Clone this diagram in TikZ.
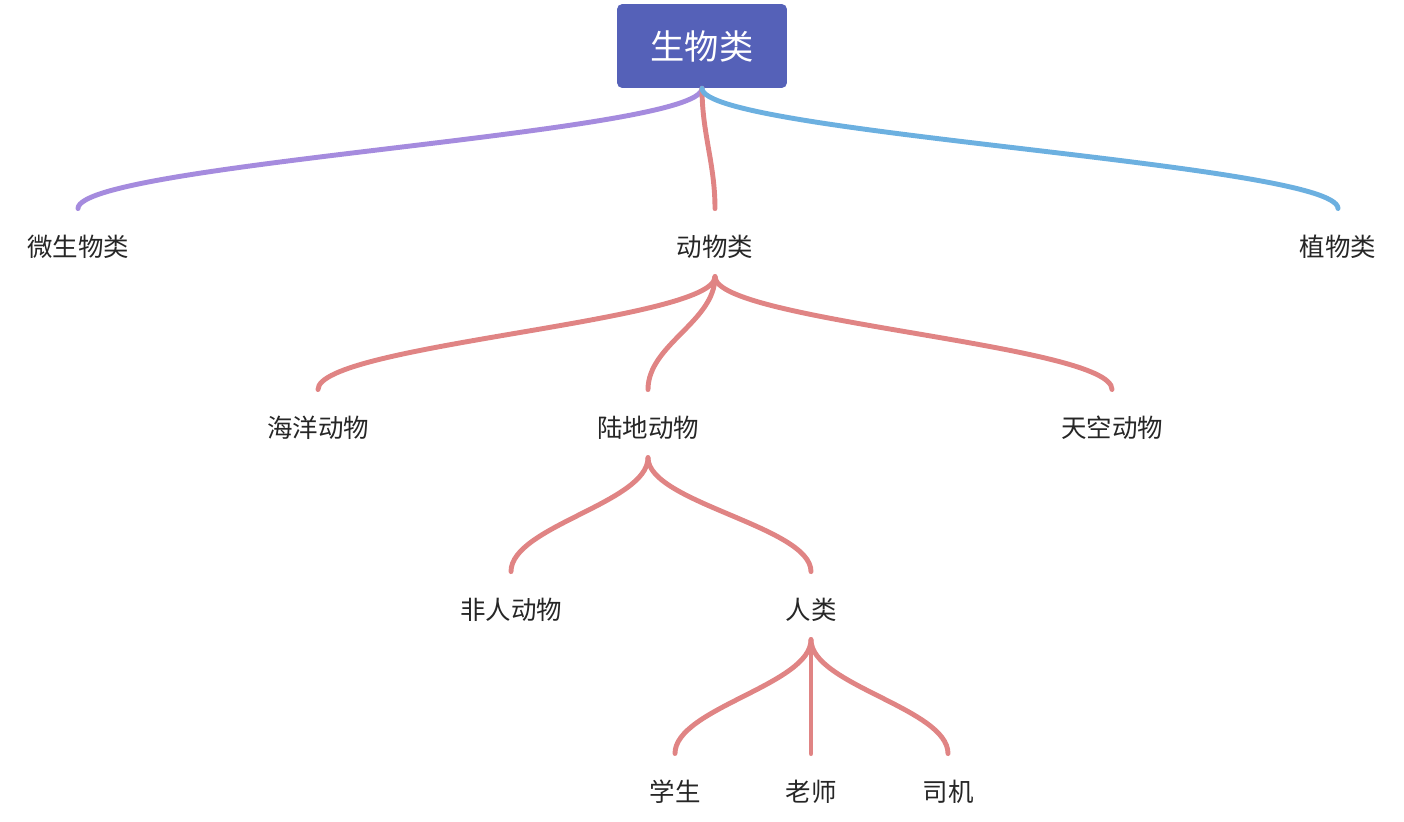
\documentclass[tikz,border=0pt]{standalone}
\usepackage{fontspec}
\setmainfont{Noto Sans CJK SC}
\definecolor{rootblue}{HTML}{5561B8}
\definecolor{linkred}{HTML}{E08484}
\definecolor{linkpurple}{HTML}{A58BDE}
\definecolor{linkblue}{HTML}{6CB0E0}
\tikzset{
  topic/.style={inner xsep=2pt, inner ysep=10pt, font=\fontsize{14.5pt}{15pt}\selectfont, text=black!85},
  root/.style={fill=rootblue, rounded corners=3pt, text=white, minimum width=3.4cm, minimum height=1.68cm, font=\fontsize{19.5pt}{20pt}\selectfont},
  link/.style={line width=2.8pt, line cap=round, linkred}
}
\newcommand{\branch}[3][linkred]{\draw[link, draw=#1] (#2.south) .. controls +(0, 45) and +(0, -45) .. ([yshift=5pt]#3.north);}
\begin{document}
\begin{tikzpicture}[x=0.02cm, y=-0.02cm]
  \useasboundingbox (0, 0) rectangle (1404, 822);
  \node[root] (bio) at (702, 46) {生物类};
  \node[topic] (micro) at (78, 247) {微生物类};
  \node[topic] (animal) at (715, 247) {动物类};
  \node[topic] (plant) at (1338, 247) {植物类};
  \node[topic] (sea) at (318, 428) {海洋动物};
  \node[topic] (land) at (648, 428) {陆地动物};
  \node[topic] (sky) at (1112, 428) {天空动物};
  \node[topic] (nonhuman) at (511, 610) {非人动物};
  \node[topic] (human) at (811, 610) {人类};
  \node[topic] (student) at (675, 792) {学生};
  \node[topic] (teacher) at (811, 792) {老师};
  \node[topic] (driver) at (948, 792) {司机};
  % links
  \branch[linkpurple]{bio}{micro}
  \branch{bio}{animal}
  \branch[linkblue]{bio}{plant}
  \branch{animal}{sea}
  \branch{animal}{land}
  \branch{animal}{sky}
  \branch{land}{nonhuman}
  \branch{land}{human}
  \branch{human}{student}
  \branch{human}{teacher}
  \branch{human}{driver}
\end{tikzpicture}
\end{document}
